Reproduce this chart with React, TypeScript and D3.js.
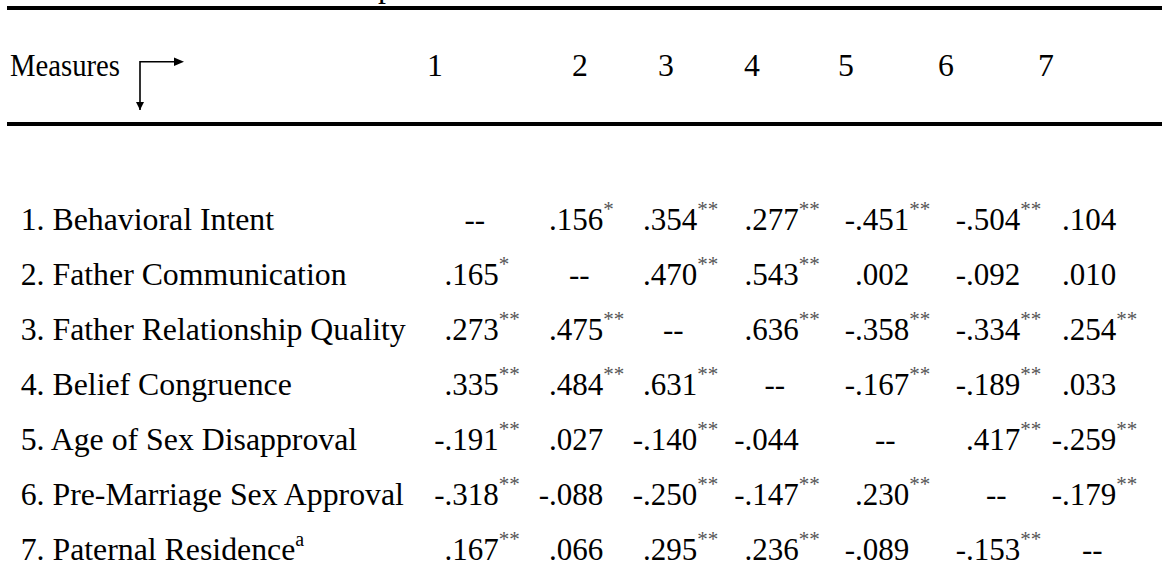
import React from "react";
import * as d3 from "d3";

// row labels and column numbers
const measures = [
  "1. Behavioral Intent",
  "2. Father Communication",
  "3. Father Relationship Quality",
  "4. Belief Congruence",
  "5. Age of Sex Disapproval",
  "6. Pre-Marriage Sex Approval",
  "7. Paternal Residence",
];
const columns = ["1", "2", "3", "4", "5", "6", "7"];

// correlations (null = diagonal) and significance marks, one row per measure
const behavioralIntent = [null, 0.156, 0.354, 0.277, -0.451, -0.504, 0.104];
const behavioralIntentSig = ["", "*", "**", "**", "**", "**", ""];
const fatherCommunication = [0.165, null, 0.47, 0.543, 0.002, -0.092, 0.01];
const fatherCommunicationSig = ["*", "", "**", "**", "", "", ""];
const relationshipQuality = [0.273, 0.475, null, 0.636, -0.358, -0.334, 0.254];
const relationshipQualitySig = ["**", "**", "", "**", "**", "**", "**"];
const beliefCongruence = [0.335, 0.484, 0.631, null, -0.167, -0.189, 0.033];
const beliefCongruenceSig = ["**", "**", "**", "", "**", "**", ""];
const ageDisapproval = [-0.191, 0.027, -0.14, -0.044, null, 0.417, -0.259];
const ageDisapprovalSig = ["**", "", "**", "", "", "**", "**"];
const premaritalApproval = [-0.318, -0.088, -0.25, -0.147, 0.23, null, -0.179];
const premaritalApprovalSig = ["**", "", "**", "**", "**", "", "**"];
const paternalResidence = [0.167, 0.066, 0.295, 0.236, -0.089, -0.153, null];
const paternalResidenceSig = ["**", "", "**", "**", "", "**", ""];

const values = [behavioralIntent, fatherCommunication, relationshipQuality, beliefCongruence,
  ageDisapproval, premaritalApproval, paternalResidence];
const sigs = [behavioralIntentSig, fatherCommunicationSig, relationshipQualitySig, beliefCongruenceSig,
  ageDisapprovalSig, premaritalApprovalSig, paternalResidenceSig];

const width = 1162, height = 585;
const font = "'Liberation Serif', 'Times New Roman', serif";

// where the decimal point of each column sits, and where each header number is centred
const decimalX = d3.scaleOrdinal<string, number>().domain(columns).range([444.5, 549, 643, 744.5, 855, 966, 1062]);
const headerX = d3.scaleOrdinal<string, number>().domain(columns).range([435, 580, 666, 752, 846, 946, 1046]);
const rowY = d3.scalePoint<string>().domain(measures).range([230, 560]);

const fmt = d3.format(".3f");
// "-" in front of the point, ".451" after it (APA style, no leading zero)
function split(v: number) {
  const s = fmt(Math.abs(v)).replace(/^0/, "");
  return [v < 0 ? "-" : "", s];
}

export default function App() {
  return (
    <svg width={width} height={height} style={{ position: "absolute", left: 0, top: 0, background: "#fff" }}
      fontFamily={font} fill="#000">
      {/* bottom of the cropped title */}
      <text x={378} y={-3} fontSize={32}>p</text>

      <rect x={7} y={6} width={width - 7} height={4} fill="#000" />
      <rect x={7} y={122} width={width - 7} height={4} fill="#000" />

      <text x={10} y={76} fontSize={32} textLength={110} lengthAdjust="spacingAndGlyphs">Measures</text>
      <g stroke="#000" strokeWidth={1.6} fill="none">
        <path d="M140,110 V61.7 H176" />
      </g>
      <path d="M174,57.5 L184,61.7 L174,66 Z" fill="#000" />
      <path d="M136,102 L140,110 L144,102 Z" fill="#000" />

      {columns.map(c => (
        <text key={c} x={headerX(c)} y={76} fontSize={31.8} textAnchor="middle">{c}</text>
      ))}

      {measures.map((m, r) => (
        <g key={m}>
          <text x={20.7} y={rowY(m)} fontSize={31.8}>
            {m}
            {r === 6 && <tspan fontSize={20} dy={-14}>a</tspan>}
          </text>
          {values[r].map((v, ci) => {
            const x = decimalX(columns[ci]);
            const y = rowY(m) as number;
            if (v === null) {
              return <text key={ci} x={x + 20} y={y} fontSize={31}>--</text>;
            }
            const [lead, rest] = split(v);
            return (
              <g key={ci}>
                {lead && <text x={x} y={y} fontSize={31} textAnchor="end">{lead}</text>}
                <text x={x} y={y} fontSize={31}>
                  {rest}
                  {sigs[r][ci] && <tspan fontSize={21} dy={-14} fill="#555">{sigs[r][ci]}</tspan>}
                </text>
              </g>
            );
          })}
        </g>
      ))}
    </svg>
  );
}
